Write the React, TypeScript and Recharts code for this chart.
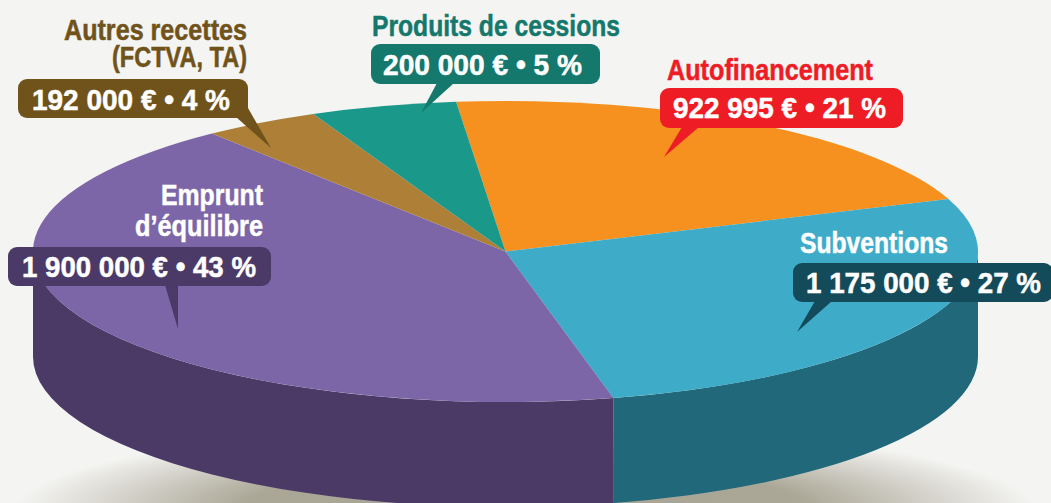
import React from 'react';
import { PieChart, Pie } from 'recharts';

const WIDTH = 1051;
const HEIGHT = 503;

const names = ['Autofinancement', 'Subventions', "Emprunt d’équilibre", 'Autres recettes (FCTVA, TA)', 'Produits de cessions'];
const amounts = [922995, 1175000, 1900000, 192000, 200000];
const percents = [21, 27, 43, 4, 5];
const titleLines = [['Autofinancement'], ['Subventions'], ['Emprunt', 'd’équilibre'], ['Autres recettes', '(FCTVA, TA)'], ['Produits de cessions']];

const topColors = ['#f6901e', '#3eacc9', '#7c66a8', '#ad7f37', '#1a998b'];
const sideColors = ['#c8741a', '#20687a', '#4b3a66', '#70531b', '#14786d'];
const boxColors = ['#ee1c25', '#134b5a', '#4b3a68', '#70531b', '#14786d'];
const titleColors = ['#ee1c25', '#ffffff', '#ffffff', '#70531b', '#14786d'];

// slices in the picture follow the rounded percentages, not the euro amounts
const data = names.map((name, i) => ({ name, value: percents[i] }));

// pie geometry: a flat disc seen from above
const CX = 505.5;
const CY = 251.5;
const RX = 472.5;
const RY = 150.5;
const DEPTH = 105;

const FONT = '"Liberation Sans Narrow", "Liberation Sans", Arial, sans-serif';
const FONT_SIZE = 29;

// callout layout, same order as the data
const callouts = [
    { box: [660, 88, 243, 40], tail: [682, 699, 664, 157], textX: 673, textBase: 118, textW: 213, titleAnchor: 'start', titleX: 667, titleBase: [80], titleW: [206] },
    { box: [793, 263, 260, 39], tail: [815, 832, 797, 332], textX: 806, textBase: 293, textW: 235, titleAnchor: 'start', titleX: 800, titleBase: [253], titleW: [148] },
    { box: [8, 247, 263, 39], tail: [165, 178, 178, 329], textX: 22, textBase: 277, textW: 234, titleAnchor: 'end', titleX: 263, titleBase: [205, 236], titleW: [102, 128] },
    { box: [18, 79, 230, 39], tail: [236, 248, 271, 148], textX: 32, textBase: 110, textW: 198, titleAnchor: 'end', titleX: 247, titleBase: [40, 67], titleW: [183, 135] },
    { box: [371, 44, 229, 40], tail: [437, 454, 421, 113], textX: 383, textBase: 75, textW: 199, titleAnchor: 'start', titleX: 372, titleBase: [36], titleW: [248] },
];

const formatAmount = (v: number) => String(v).replace(/\B(?=(\d{3})+$)/g, ' ');

const rimPoint = (deg: number, dy = 0) => {
    const a = (deg * Math.PI) / 180;
    return `${CX + RX * Math.cos(a)} ${CY - RY * Math.sin(a) + dy}`;
};

// elliptical slice + the wall under it, angles come from the Pie
const DiscSlice = (props: any) => {
    const { startAngle, endAngle, index } = props;
    const large = Math.abs(startAngle - endAngle) > 180 ? 1 : 0;
    const wallFrom = Math.min(startAngle, 0);
    const wallTo = Math.max(endAngle, -180);
    return (
        <g>
            {wallFrom > wallTo && (
                <path
                    fill={sideColors[index]}
                    d={`M ${rimPoint(wallFrom)} A ${RX} ${RY} 0 0 1 ${rimPoint(wallTo)} L ${rimPoint(wallTo, DEPTH)} A ${RX} ${RY} 0 0 0 ${rimPoint(wallFrom, DEPTH)} Z`}
                />
            )}
            <path
                fill={topColors[index]}
                d={`M ${CX} ${CY} L ${rimPoint(startAngle)} A ${RX} ${RY} 0 ${large} 1 ${rimPoint(endAngle)} Z`}
            />
        </g>
    );
};

const renderCallout = (props: any) => {
    const i = props.index;
    const c = callouts[i];
    const [x, y, w, h] = c.box;
    const [t1, t2, tipX, tipY] = c.tail;
    const bottom = y + h;
    return (
        <g key={`callout-${i}`} style={{ fontFamily: FONT, fontWeight: 700, fontSize: FONT_SIZE }}>
            <rect x={x} y={y} width={w} height={h} rx={9} fill={boxColors[i]} />
            <path d={`M ${t1} ${bottom - 1} L ${t2} ${i === 3 ? bottom - 10 : bottom - 1} L ${tipX} ${tipY} Z`} fill={boxColors[i]} />
            <text x={c.textX} y={c.textBase} fill="#fff" stroke="#fff" strokeWidth={0.5} textLength={c.textW} lengthAdjust="spacingAndGlyphs">
                {`${formatAmount(amounts[i])} € • ${percents[i]} %`}
            </text>
            {titleLines[i].map((line, k) => (
                <text
                    key={line}
                    x={c.titleAnchor === 'end' ? c.titleX - c.titleW[k] : c.titleX}
                    y={c.titleBase[k]}
                    fill={titleColors[i]}
                    stroke={titleColors[i]}
                    strokeWidth={0.5}
                    textLength={c.titleW[k]}
                    lengthAdjust="spacingAndGlyphs"
                >
                    {line}
                </text>
            ))}
        </g>
    );
};

const App = () => {
    return (
        <div
            style={{
                position: 'absolute',
                left: 0,
                top: 0,
                width: WIDTH,
                height: HEIGHT,
                overflow: 'hidden',
                background: 'radial-gradient(ellipse 510px 85px at 525px 510px, #a8a495 0%, #aba797 55%, #f4f4f2 100%), #f4f4f2',
            }}
        >
            <PieChart width={WIDTH} height={HEIGHT} margin={{ top: 0, right: 0, bottom: 0, left: 0 }}>
                <Pie
                    data={data}
                    dataKey="value"
                    nameKey="name"
                    cx={CX}
                    cy={CY}
                    innerRadius={0}
                    outerRadius={RX}
                    startAngle={96}
                    endAngle={-264}
                    paddingAngle={0}
                    stroke="none"
                    shape={DiscSlice}
                    label={renderCallout}
                    labelLine={false}
                    isAnimationActive={false}
                />
            </PieChart>
        </div>
    );
};

export default App;
